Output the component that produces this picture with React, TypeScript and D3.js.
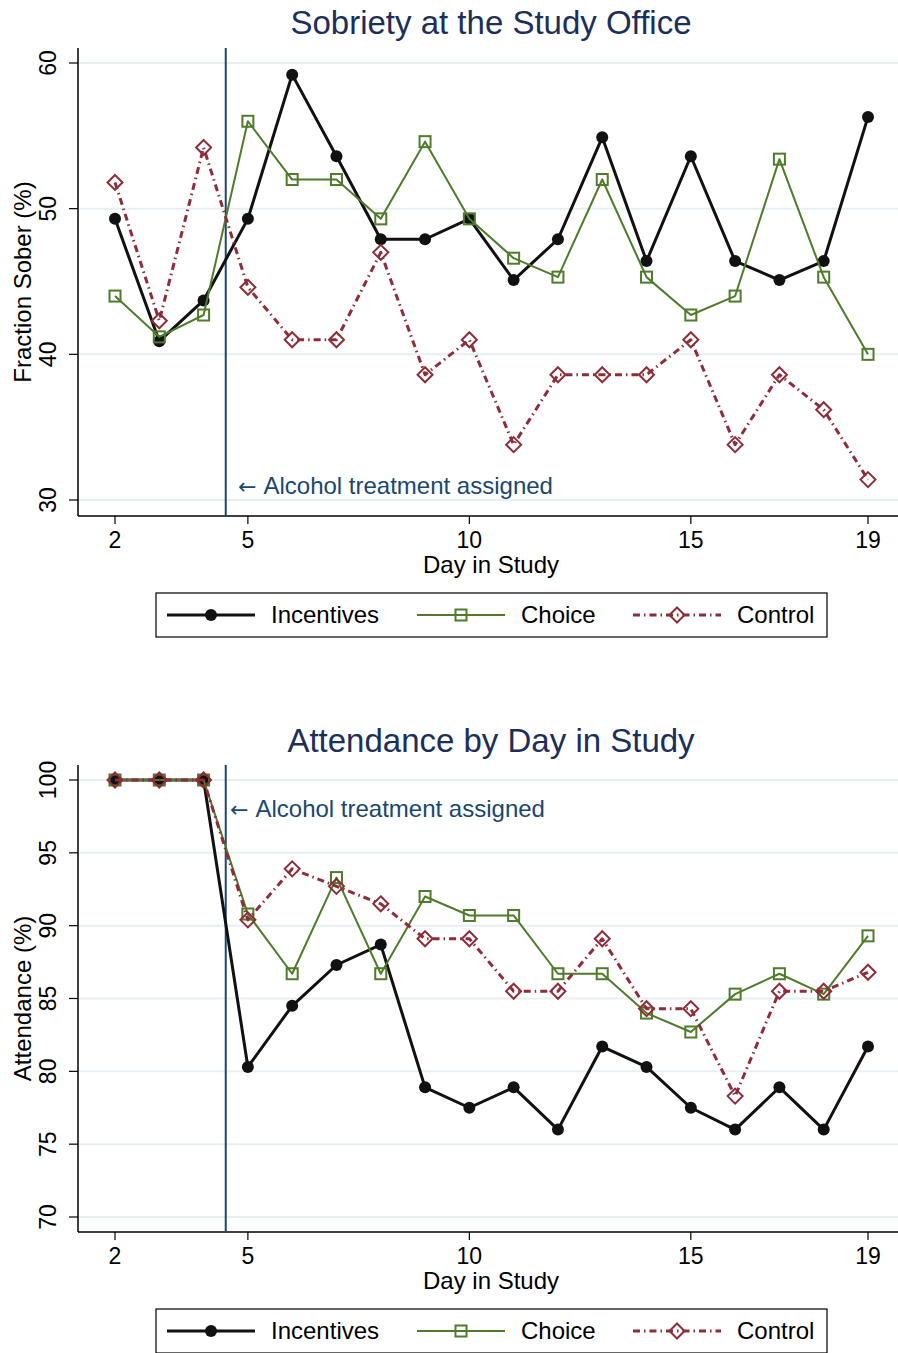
import React, { useEffect, useRef } from "react";
import * as d3 from "d3";

// days in study
const days = [2, 3, 4, 5, 6, 7, 8, 9, 10, 11, 12, 13, 14, 15, 16, 17, 18, 19];

// sobriety (% sober) by group
const soberIncentives = [49.3, 40.9, 43.7, 49.3, 59.2, 53.6, 47.9, 47.9, 49.3, 45.1, 47.9, 54.9, 46.4, 53.6, 46.4, 45.1, 46.4, 56.3];
const soberChoice = [44.0, 41.2, 42.7, 56.0, 52.0, 52.0, 49.3, 54.6, 49.3, 46.6, 45.3, 52.0, 45.3, 42.7, 44.0, 53.4, 45.3, 40.0];
const soberControl = [51.8, 42.3, 54.2, 44.6, 41.0, 41.0, 47.0, 38.6, 41.0, 33.8, 38.6, 38.6, 38.6, 41.0, 33.8, 38.6, 36.2, 31.4];

// attendance (%) by group
const attendIncentives = [100, 100, 100, 80.3, 84.5, 87.3, 88.7, 78.9, 77.5, 78.9, 76.0, 81.7, 80.3, 77.5, 76.0, 78.9, 76.0, 81.7];
const attendChoice = [100, 100, 100, 90.8, 86.7, 93.3, 86.7, 92.0, 90.7, 90.7, 86.7, 86.7, 84.0, 82.7, 85.3, 86.7, 85.3, 89.3];
const attendControl = [100, 100, 100, 90.4, 93.9, 92.7, 91.5, 89.1, 89.1, 85.5, 85.5, 89.1, 84.3, 84.3, 78.3, 85.5, 85.5, 86.8];

const groupNames = ["Incentives", "Choice", "Control"];
const xTicks = [2, 5, 10, 15, 19];
const soberTicks = [30, 40, 50, 60];
const attendTicks = [70, 75, 80, 85, 90, 95, 100];
const treatmentDay = 4.5;
const annotation = "Alcohol treatment assigned";

const FONT = "'Liberation Sans', Arial, Helvetica, sans-serif";
const styles = [
  { color: "#111111", width: 3, dash: null, marker: "circle" },
  { color: "#4f7b2b", width: 2, dash: null, marker: "square" },
  { color: "#8e2d39", width: 3, dash: "7 4 1.5 4", marker: "diamond" },
];

const App = () => {
  const ref = useRef(null);

  useEffect(() => {
    const svg = d3.select(ref.current);
    svg.selectAll("*").remove();

    const panels = [
      {
        title: "Sobriety at the Study Office",
        yTitle: "Fraction Sober (%)",
        series: [soberIncentives, soberChoice, soberControl],
        domain: [30, 60],
        yRange: [500, 63],
        ticks: soberTicks,
        top: 48,
        bottom: 516,
        titleY: 34,
        annoX: 238,
        annoY: 494,
        legendTop: 593,
      },
      {
        title: "Attendance by Day in Study",
        yTitle: "Attendance (%)",
        series: [attendIncentives, attendChoice, attendControl],
        domain: [70, 100],
        yRange: [1217, 780],
        ticks: attendTicks,
        top: 765,
        bottom: 1232,
        titleY: 752,
        annoX: 230,
        annoY: 817,
        legendTop: 1309,
      },
    ];

    const left = 78;
    const right = 898;
    const x = d3.scaleLinear().domain([2, 19]).range([115, 868]);

    panels.forEach((p) => {
      const y = d3.scaleLinear().domain(p.domain).range(p.yRange);
      const g = svg.append("g");

      // gridlines
      g.selectAll(".grid")
        .data(p.ticks)
        .enter()
        .append("line")
        .attr("x1", left)
        .attr("x2", right)
        .attr("y1", (d) => y(d))
        .attr("y2", (d) => y(d))
        .attr("stroke", "#e8eff2")
        .attr("stroke-width", 2);

      // title
      g.append("text")
        .attr("x", 491)
        .attr("y", p.titleY)
        .attr("text-anchor", "middle")
        .attr("font-family", FONT)
        .attr("font-size", 33)
        .attr("fill", "#1c2e5a")
        .text(p.title);

      // axes
      g.append("line")
        .attr("x1", left).attr("x2", left)
        .attr("y1", p.top).attr("y2", p.bottom)
        .attr("stroke", "#000").attr("stroke-width", 1.5);
      g.append("line")
        .attr("x1", left).attr("x2", right)
        .attr("y1", p.bottom).attr("y2", p.bottom)
        .attr("stroke", "#000").attr("stroke-width", 1.5);

      // y ticks
      p.ticks.forEach((t) => {
        g.append("line")
          .attr("x1", left - 9).attr("x2", left)
          .attr("y1", y(t)).attr("y2", y(t))
          .attr("stroke", "#000").attr("stroke-width", 1.2);
        g.append("text")
          .attr("transform", `translate(56,${y(t)}) rotate(-90)`)
          .attr("text-anchor", "middle")
          .attr("font-family", FONT)
          .attr("font-size", 23)
          .text(t);
      });

      // x ticks
      xTicks.forEach((t) => {
        g.append("line")
          .attr("x1", x(t)).attr("x2", x(t))
          .attr("y1", p.bottom).attr("y2", p.bottom + 8)
          .attr("stroke", "#000").attr("stroke-width", 1.2);
        g.append("text")
          .attr("x", x(t))
          .attr("y", p.bottom + 32)
          .attr("text-anchor", "middle")
          .attr("font-family", FONT)
          .attr("font-size", 23)
          .text(t);
      });

      g.append("text")
        .attr("x", 491)
        .attr("y", p.bottom + 57)
        .attr("text-anchor", "middle")
        .attr("font-family", FONT)
        .attr("font-size", 24)
        .text("Day in Study");

      g.append("text")
        .attr("transform", `translate(31,${(p.top + p.bottom) / 2}) rotate(-90)`)
        .attr("text-anchor", "middle")
        .attr("font-family", FONT)
        .attr("font-size", 24)
        .text(p.yTitle);

      // treatment line
      g.append("line")
        .attr("x1", x(treatmentDay)).attr("x2", x(treatmentDay))
        .attr("y1", p.top).attr("y2", p.bottom)
        .attr("stroke", "#1a476f").attr("stroke-width", 2);
      const anno = g.append("text")
        .attr("x", p.annoX)
        .attr("y", p.annoY)
        .attr("font-family", FONT)
        .attr("font-size", 24)
        .attr("fill", "#1a476f");
      anno.append("tspan")
        .attr("font-family", "'DejaVu Sans', sans-serif")
        .attr("font-size", 22)
        .text("\u2190 ");
      anno.append("tspan").text(annotation);

      // series
      p.series.forEach((vals, i) => {
        const s = styles[i];
        const line = d3
          .line()
          .x((d) => x(d[0]))
          .y((d) => y(d[1]));
        const pts = days.map((d, j) => [d, vals[j]]);
        g.append("path")
          .attr("d", line(pts))
          .attr("fill", "none")
          .attr("stroke", s.color)
          .attr("stroke-width", s.width)
          .attr("stroke-linejoin", "round")
          .attr("stroke-dasharray", s.dash);
        pts.forEach((pt) => drawMarker(g, s, x(pt[0]), y(pt[1])));
      });

      // legend
      const lt = p.legendTop;
      g.append("rect")
        .attr("x", 156).attr("y", lt)
        .attr("width", 671).attr("height", 44)
        .attr("fill", "#fff").attr("stroke", "#000").attr("stroke-width", 1.2);
      const centers = [211, 461, 677];
      groupNames.forEach((name, i) => {
        const s = styles[i];
        const cx = centers[i];
        const cy = lt + 22;
        g.append("line")
          .attr("x1", cx - 44).attr("x2", cx + 44)
          .attr("y1", cy).attr("y2", cy)
          .attr("stroke", s.color)
          .attr("stroke-width", s.width)
          .attr("stroke-dasharray", s.dash);
        drawMarker(g, s, cx, cy);
        g.append("text")
          .attr("x", cx + 60)
          .attr("y", cy + 8)
          .attr("font-family", FONT)
          .attr("font-size", 24)
          .text(name);
      });
    });
  }, []);

  const drawMarker = (g, s, cx, cy) => {
    if (s.marker === "circle") {
      g.append("circle").attr("cx", cx).attr("cy", cy).attr("r", 6).attr("fill", s.color);
    } else if (s.marker === "square") {
      g.append("rect")
        .attr("x", cx - 5.5).attr("y", cy - 5.5)
        .attr("width", 11).attr("height", 11)
        .attr("fill", "none").attr("stroke", s.color).attr("stroke-width", 2);
    } else {
      const r = 7.5;
      g.append("path")
        .attr("d", `M${cx},${cy - r}L${cx + r},${cy}L${cx},${cy + r}L${cx - r},${cy}Z`)
        .attr("fill", "none").attr("stroke", s.color).attr("stroke-width", 2);
    }
  };

  return (
    <svg
      ref={ref}
      width={898}
      height={1353}
      style={{ position: "absolute", left: 0, top: 0, background: "#fff" }}
    />
  );
};

export default App;
